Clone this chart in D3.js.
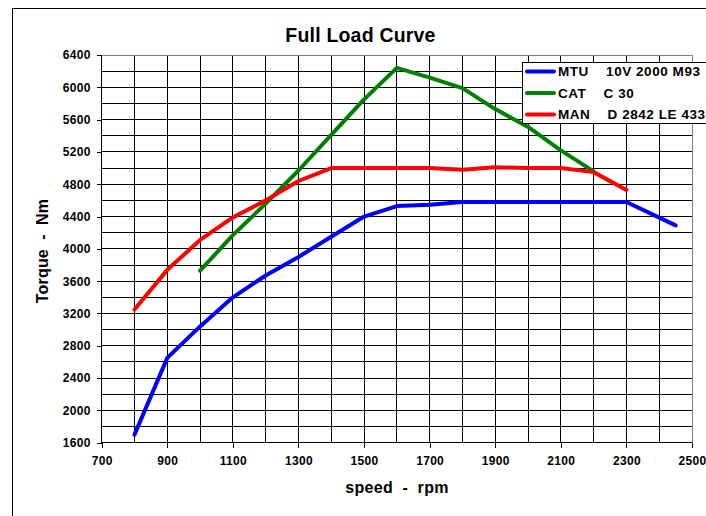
<!DOCTYPE html>
<html>
<head>
<meta charset="utf-8">
<script src="https://cdn.jsdelivr.net/npm/d3@7"></script>
<style>
  html, body { margin: 0; padding: 0; background: #fff; }
  svg { display: block; font-family: "Liberation Sans", Arial, sans-serif; }
</style>
</head>
<body>
<svg id="chart" width="706" height="516"></svg>
<script>
// ---- data ----
const titleText = "Full Load Curve";
const xTitle = "speed\u00a0\u00a0-\u00a0\u00a0rpm";
const yTitle = "Torque\u00a0\u00a0-\u00a0\u00a0Nm";

const xTicks = [700, 900, 1100, 1300, 1500, 1700, 1900, 2100, 2300, 2500];
const yTicks = [1600, 2000, 2400, 2800, 3200, 3600, 4000, 4400, 4800, 5200, 5600, 6000, 6400];

const mtuRpm    = [800, 900, 1000, 1100, 1200, 1300, 1400, 1500, 1600, 1700, 1800, 1900, 2000, 2100, 2200, 2300, 2450];
const mtuTorque = [1700, 2650, 3040, 3400, 3670, 3900, 4150, 4400, 4530, 4545, 4580, 4580, 4580, 4580, 4580, 4580, 4290];

const catRpm    = [1000, 1100, 1200, 1300, 1400, 1500, 1600, 1700, 1800, 1900, 2000, 2100, 2200];
const catTorque = [3730, 4170, 4560, 4970, 5410, 5850, 6240, 6120, 5990, 5730, 5510, 5220, 4960];

const manRpm    = [800, 900, 1000, 1100, 1200, 1300, 1400, 1500, 1600, 1700, 1800, 1900, 2000, 2100, 2200, 2300];
const manTorque = [3250, 3740, 4110, 4390, 4600, 4840, 5000, 5000, 5000, 5000, 4980, 5010, 5000, 5000, 4950, 4730];

const seriesNames  = ["MTU\u00a0\u00a0\u00a0\u00a010V 2000 M93", "CAT\u00a0\u00a0\u00a0\u00a0C 30", "MAN\u00a0\u00a0\u00a0\u00a0D 2842 LE 433"];
const seriesColors = ["#0000FF", "#008000", "#FF0000"];

// ---- layout ----
const svg = d3.select("#chart");
const L = 101.7, R = 692, T = 55, B = 442.7;

const x = d3.scaleLinear().domain([700, 2500]).range([L, R]);
const y = d3.scaleLinear().domain([1600, 6400]).range([B, T]);

// outer frame
svg.append("rect").attr("x", 12.5).attr("y", 8.5).attr("width", 720).attr("height", 540)
  .attr("fill", "#fff").attr("stroke", "#000").attr("stroke-width", 1);

// grid
const g = svg.append("g");
const vGrid = d3.range(800, 2500, 100);
const hGrid = d3.range(1800, 6400, 200);
g.selectAll("line.v").data(vGrid).join("line")
  .attr("x1", d => x(d)).attr("x2", d => x(d)).attr("y1", T).attr("y2", B)
  .attr("stroke", "#000").attr("stroke-width", 1).attr("shape-rendering", "crispEdges");
g.selectAll("line.h").data(hGrid).join("line")
  .attr("x1", L).attr("x2", R).attr("y1", d => y(d)).attr("y2", d => y(d))
  .attr("stroke", "#000").attr("stroke-width", 1).attr("shape-rendering", "crispEdges");

// plot border top/right (gray)
g.append("line").attr("x1", L).attr("x2", R).attr("y1", T).attr("y2", T)
  .attr("stroke", "#808080").attr("shape-rendering", "crispEdges");
g.append("line").attr("x1", R).attr("x2", R).attr("y1", T).attr("y2", B)
  .attr("stroke", "#808080").attr("shape-rendering", "crispEdges");

// axes
const xAxis = d3.axisBottom(x).tickValues(xTicks).tickSize(5).tickPadding(9).tickFormat(d3.format("d"));
const yAxis = d3.axisLeft(y).tickValues(yTicks).tickSize(5).tickPadding(6).tickFormat(d3.format("d"));

const gx = svg.append("g").attr("transform", `translate(0,${B})`).call(xAxis);
const gy = svg.append("g").attr("transform", `translate(${L},0)`).call(yAxis);
[gx, gy].forEach(a => {
  a.select(".domain").attr("stroke", "#000").attr("shape-rendering", "crispEdges");
  a.selectAll(".tick line").attr("stroke", "#000").attr("shape-rendering", "crispEdges");
  a.selectAll(".tick text").attr("fill", "#000")
    .style("font-family", '"Liberation Sans", Arial, sans-serif')
    .style("font-weight", "bold").style("font-size", "12px").style("letter-spacing", "0.3px");
});
gx.select(".domain").attr("d", `M${L},0H${R}`);
gy.select(".domain").attr("d", `M0,${B}V${T}`);

// titles
svg.append("text").attr("x", 360.5).attr("y", 42.3).attr("text-anchor", "middle")
  .style("font-weight", "bold").style("font-size", "19.5px").style("letter-spacing", "0.2px").text(titleText);
svg.append("text").attr("x", 397).attr("y", 493).attr("text-anchor", "middle")
  .style("font-weight", "bold").style("font-size", "16px").style("letter-spacing", "0.3px").text(xTitle);
svg.append("text").attr("transform", "translate(48,251) rotate(-90)").attr("text-anchor", "middle")
  .style("font-weight", "bold").style("font-size", "16px").style("letter-spacing", "0.2px").text(yTitle);

// lines
const line = d3.line().x(d => x(d[0])).y(d => y(d[1]));
const series = [
  d3.zip(mtuRpm, mtuTorque),
  d3.zip(catRpm, catTorque),
  d3.zip(manRpm, manTorque)
];
series.forEach((s, i) => {
  svg.append("path").datum(s).attr("d", line)
    .attr("fill", "none").attr("stroke", seriesColors[i]).attr("stroke-width", 4)
    .attr("stroke-linejoin", "round").attr("stroke-linecap", "round");
});

// legend
const lg = svg.append("g");
lg.append("rect").attr("x", 522.5).attr("y", 62.5).attr("width", 200).attr("height", 61)
  .attr("fill", "#fff").attr("stroke", "#000").attr("stroke-width", 1);
const rowY = [71.5, 93, 114.5];
seriesNames.forEach((n, i) => {
  lg.append("line").attr("x1", 527).attr("x2", 554).attr("y1", rowY[i]).attr("y2", rowY[i])
    .attr("stroke", seriesColors[i]).attr("stroke-width", 4).attr("stroke-linecap", "round");
  lg.append("text").attr("x", 558).attr("y", rowY[i]).attr("dy", "0.36em")
    .style("font-weight", "bold").style("font-size", "13.5px").style("letter-spacing", "0.55px").text(n);
});
</script>
</body>
</html>
